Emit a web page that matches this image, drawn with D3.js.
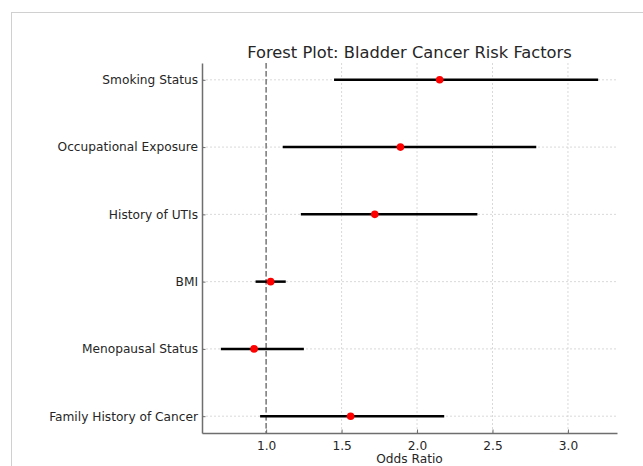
<!DOCTYPE html>
<html lang="en">
<head>
    <meta charset="UTF-8">
    <title>Forest Plot: Bladder Cancer Risk Factors</title>
    <script src="https://d3js.org/d3.v7.min.js"></script>
    <style>
        body {
            margin: 0;
            background: #fff;
            font-family: "DejaVu Sans", sans-serif;
        }

        .frame {
            fill: none;
            stroke: #d0d0d0;
            stroke-width: 1;
        }

        .grid line {
            stroke: #cfcfcf;
            stroke-dasharray: 2,2;
            stroke-width: 0.8;
        }

        .axis path, .axis line {
            stroke: #6e6e6e;
        }

        .axis text {
            font-family: "DejaVu Sans", sans-serif;
            font-size: 12.2px;
            fill: #262626;
        }
    </style>
</head>
<body>
    <svg id="chart"></svg>

    <script>
        // Risk factors, bottom to top as drawn
        const factors = [
            "Family History of Cancer",
            "Menopausal Status",
            "BMI",
            "History of UTIs",
            "Occupational Exposure",
            "Smoking Status"
        ];
        const oddsRatio = [1.56, 0.92, 1.03, 1.72, 1.89, 2.15];
        const ciLower = [0.96, 0.70, 0.93, 1.23, 1.11, 1.45];
        const ciUpper = [2.18, 1.25, 1.13, 2.40, 2.79, 3.20];
        const xTicks = [1.0, 1.5, 2.0, 2.5, 3.0];

        const width = 643;
        const height = 466;
        const margin = { top: 63, right: 26, bottom: 33, left: 202 };

        const svg = d3.select('#chart')
            .attr('width', width)
            .attr('height', height);

        // light frame around the figure
        svg.append('rect')
            .attr('class', 'frame')
            .attr('x', 11.5)
            .attr('y', 12.5)
            .attr('width', width)
            .attr('height', height);

        const data = factors.map((f, i) => ({
            factor: f, idx: i, or: oddsRatio[i], lo: ciLower[i], hi: ciUpper[i]
        }));

        // matplotlib-style 5% padding around the data range
        const xMin = d3.min(ciLower), xMax = d3.max(ciUpper);
        const pad = (xMax - xMin) * 0.05;
        const x = d3.scaleLinear()
            .domain([xMin - pad, xMax + pad])
            .range([margin.left, width - margin.right]);

        const y = d3.scaleLinear()
            .domain([-0.25, factors.length - 1 + 0.25])
            .range([height - margin.bottom, margin.top]);

        // grid
        svg.append('g')
            .attr('class', 'grid')
            .selectAll('line.gx')
            .data(xTicks)
            .join('line')
            .attr('x1', d => x(d)).attr('x2', d => x(d))
            .attr('y1', margin.top).attr('y2', height - margin.bottom);

        svg.append('g')
            .attr('class', 'grid')
            .selectAll('line.gy')
            .data(data)
            .join('line')
            .attr('x1', margin.left).attr('x2', width - margin.right)
            .attr('y1', d => y(d.idx)).attr('y2', d => y(d.idx));

        // reference line at OR = 1
        svg.append('line')
            .attr('x1', x(1)).attr('x2', x(1))
            .attr('y1', margin.top).attr('y2', height - margin.bottom)
            .attr('stroke', '#808080')
            .attr('stroke-width', 1.6)
            .attr('stroke-dasharray', '5.5,2.5');

        // confidence intervals
        svg.selectAll('.ci')
            .data(data)
            .join('line')
            .attr('class', 'ci')
            .attr('x1', d => x(d.lo))
            .attr('x2', d => x(d.hi))
            .attr('y1', d => y(d.idx))
            .attr('y2', d => y(d.idx))
            .attr('stroke', '#000')
            .attr('stroke-width', 2.5);

        // point estimates
        svg.selectAll('.pt')
            .data(data)
            .join('circle')
            .attr('class', 'pt')
            .attr('cx', d => x(d.or))
            .attr('cy', d => y(d.idx))
            .attr('r', 3.8)
            .attr('fill', '#ff0000');

        // x axis
        svg.append('g')
            .attr('class', 'axis')
            .attr('transform', `translate(0,${height - margin.bottom})`)
            .call(d3.axisBottom(x).tickValues(xTicks).tickFormat(d3.format('.1f'))
                .tickSizeInner(-3.5).tickSizeOuter(0).tickPadding(8))
            .call(g => g.select('.domain').attr('stroke-width', 1.5));

        // y axis
        svg.append('g')
            .attr('class', 'axis')
            .attr('transform', `translate(${margin.left},0)`)
            .call(d3.axisLeft(y).tickValues(d3.range(factors.length))
                .tickFormat(i => factors[i])
                .tickSizeInner(-3.5).tickSizeOuter(0).tickPadding(4))
            .call(g => g.select('.domain').attr('stroke-width', 1.5));

        // title
        svg.append('text')
            .attr('x', (margin.left + width - margin.right) / 2)
            .attr('y', 58)
            .attr('text-anchor', 'middle')
            .style('font-size', '16.3px')
            .style('fill', '#262626')
            .text('Forest Plot: Bladder Cancer Risk Factors');

        // x label
        svg.append('text')
            .attr('x', (margin.left + width - margin.right) / 2)
            .attr('y', 463)
            .attr('text-anchor', 'middle')
            .style('font-size', '12.2px')
            .style('fill', '#262626')
            .text('Odds Ratio');
    </script>
</body>
</html>
